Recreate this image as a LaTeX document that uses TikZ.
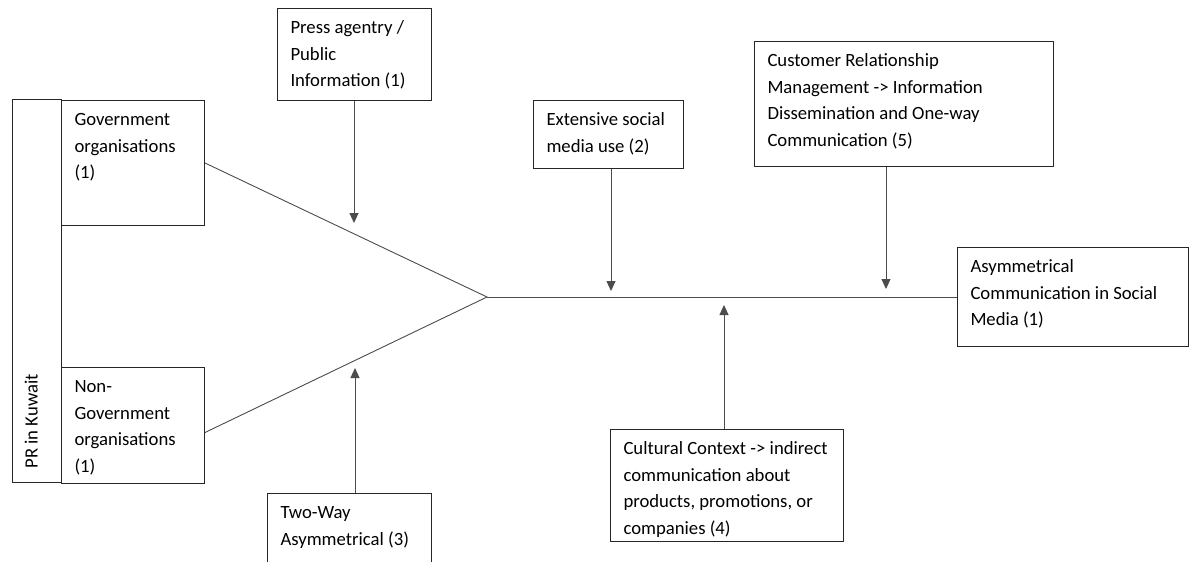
\documentclass[tikz,border=0pt]{standalone}
\usepackage{fontspec}
\setmainfont{Carlito}
\usetikzlibrary{arrows.meta}

\begin{document}
\begin{tikzpicture}[x=1pt,y=-1pt,line width=.8pt,
  font=\fontsize{18.7}{26.5}\selectfont,
  execute at begin node={\spaceskip=.226em plus .1em minus .05em\hyphenpenalty=10000\relax},
  blk/.style={draw=black!85,line width=1pt,anchor=north west,
    inner xsep=13pt,inner ysep=0pt,text height=25pt},
  conn/.style={draw=black!70,line width=.9pt},
  arr/.style={conn,-{Triangle[length=10pt,width=9pt]}}]
  \clip (0,0) rectangle (1189,562);
  \fill[white] (0,0) rectangle (1189,562);

  \node[blk,rotate=90,inner xsep=14pt,text width=355pt,text depth=24pt] (pr) at (12,483) {PR in Kuwait};
  \node[blk,text width=117pt,text depth=100pt] (gov) at (61,100) {Government\\organisations\\(1)};
  \node[blk,text width=117pt,text depth=91pt] (nongov) at (61,367) {Non-\\Government\\organisations\\(1)};
  \node[blk,text width=128pt,text depth=67pt] (press) at (277,8) {Press agentry /\\Public\\Information (1)};
  \node[blk,text width=124pt,text depth=43pt] (ext) at (533,100) {Extensive social\\media use (2)};
  \node[blk,text width=273pt,text depth=100pt] (crm) at (754,41) {Customer Relationship\\Management -> Information\\Dissemination and One-way\\Communication (5)};
  \node[blk,text width=205pt,text depth=74pt] (asym) at (957,247) {Asymmetrical\\Communication in Social\\Media (1)};
  \node[blk,text width=138pt,text depth=65pt] (two) at (267,493) {Two-Way\\Asymmetrical (3)};
  \node[blk,text width=207pt,text depth=87pt] (cult) at (610,429) {Cultural Context -> indirect\\communication about\\products, promotions, or\\companies (4)};

  \coordinate (apex) at (487,297);
  \draw[conn] (gov.east) -- (apex) -- ([yshift=-7pt]nongov.east);
  \draw[conn] (apex) -- (asym.west);

  \coordinate (pressTip) at (354,223);
  \coordinate (extTip) at (611,291);
  \coordinate (crmTip) at (886,289);
  \coordinate (twoTip) at (355,368);
  \coordinate (cultTip) at (724,305);
  \draw[arr] (press.south -| pressTip) -- (pressTip);
  \draw[arr] (ext.south -| extTip) -- (extTip);
  \draw[arr] (crm.south -| crmTip) -- (crmTip);
  \draw[arr] (two.north -| twoTip) -- (twoTip);
  \draw[arr] (cult.north -| cultTip) -- (cultTip);
\end{tikzpicture}
\end{document}
